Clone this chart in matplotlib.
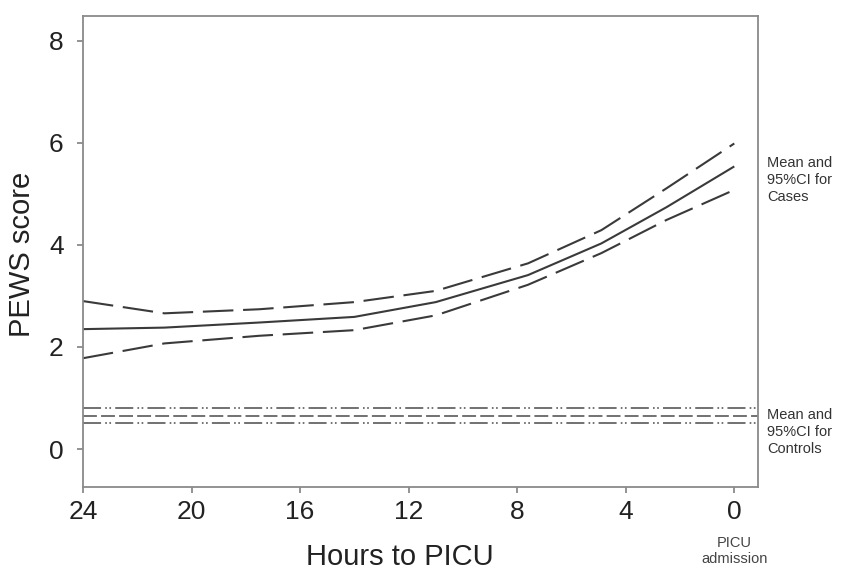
import matplotlib
matplotlib.use("Agg")
import matplotlib.pyplot as plt

plt.rcParams['font.family'] = ['Liberation Sans', 'DejaVu Sans']
plt.rcParams['lines.scale_dashes'] = False

# Cases: mean and 95% CI
hours = [24, 21, 17.5, 14, 11, 7.6, 4.9, 2.5, 0]
case_mean = [2.35, 2.38, 2.48, 2.59, 2.88, 3.41, 4.03, 4.74, 5.54]
case_upper = [2.90, 2.66, 2.74, 2.88, 3.10, 3.64, 4.29, 5.11, 5.99]
case_lower = [1.78, 2.07, 2.22, 2.33, 2.62, 3.22, 3.84, 4.49, 5.08]

# Controls: mean and 95% CI (constant)
control_mean = 0.65
control_upper = 0.81
control_lower = 0.51

x_ticks = [24, 20, 16, 12, 8, 4, 0]
y_ticks = [0, 2, 4, 6, 8]

fig = plt.figure(figsize=(8.44, 5.70), dpi=100)
ax = fig.add_axes([0.0983, 0.1456, 0.8, 0.8264])

dark = '#3a3a3a'
ax.plot(hours, case_mean, color=dark, lw=1.5, solid_capstyle='butt')
ax.plot(hours, case_upper, color=dark, lw=1.5, dashes=(22, 7))
ax.plot(hours, case_lower, color=dark, lw=1.5, dashes=(22, 7))

ctrl_col = '#666666'
ax.axhline(control_upper, color=ctrl_col, lw=1.3, dashes=(13, 3, 1.2, 1.8, 1.2, 3))
ax.axhline(control_mean, color=ctrl_col, lw=1.3, dashes=(10, 3))
ax.axhline(control_lower, color=ctrl_col, lw=1.3, dashes=(13, 3, 1.2, 1.8, 1.2, 3))

ax.set_xlim(24, -0.88)
ax.set_ylim(-0.745, 8.49)
ax.set_xticks(x_ticks)
ax.set_xticklabels([str(v) for v in x_ticks])
ax.set_yticks(y_ticks)
ax.set_yticklabels([str(v) for v in y_ticks])

for s in ax.spines.values():
    s.set_color('#8a8a8a')
    s.set_linewidth(1.3)
ax.tick_params(axis='both', direction='out', length=4, width=1.3, color='#8a8a8a',
               labelsize=19, labelcolor='#222222')
ax.tick_params(axis='x', pad=5)
ax.tick_params(axis='y', pad=10)

ax.set_xlabel('Hours to PICU', fontsize=21, color='#222222', va='center')
ax.xaxis.set_label_coords(0.47, -0.149)
ax.set_ylabel('PEWS score', fontsize=21, color='#222222', va='center')
ax.yaxis.set_label_coords(-0.09, 0.494)

ax.text(1.013, 5.27, 'Mean and\n95%CI for\nCases', transform=ax.get_yaxis_transform(),
        fontsize=10.5, color='#333333', va='center', ha='left', linespacing=1.25)
ax.text(1.013, 0.33, 'Mean and\n95%CI for\nControls', transform=ax.get_yaxis_transform(),
        fontsize=10.5, color='#333333', va='center', ha='left', linespacing=1.25)
ax.text(0, -0.136, 'PICU\nadmission', transform=ax.get_xaxis_transform(),
        fontsize=10.5, color='#444444', va='center', ha='center', linespacing=1.25)

fig.savefig('out.png', dpi=100)
